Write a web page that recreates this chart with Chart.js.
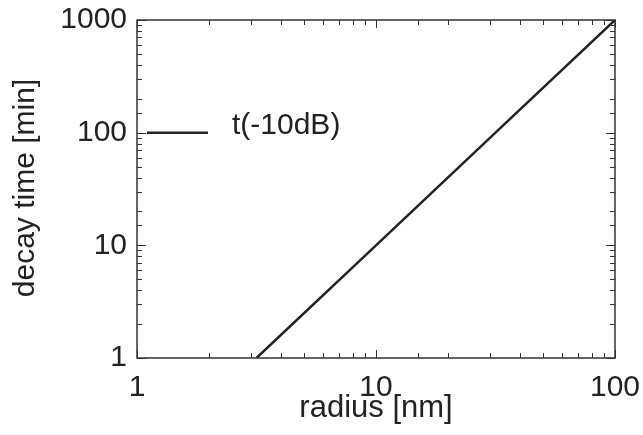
<!DOCTYPE html>
<html>
<head>
<meta charset="utf-8">
<script src="https://cdn.jsdelivr.net/npm/chart.js@4/dist/chart.umd.min.js"></script>
<style>
  body { margin: 0; background: #fff; }
  canvas { display: block; }
</style>
</head>
<body>
<canvas id="myChart" width="643" height="435"></canvas>
<script>
// decay time vs radius
const radius = [3.162, 10, 31.62, 100];      // nm
const decayTime = [1, 10, 100, 1000];        // min
const xTickLabels = [1, 10, 100];
const yTickLabels = [1, 10, 100, 1000];
const legendLabel = 't(-10dB)';

const FONT = '"Liberation Sans", Arial, Helvetica, sans-serif';
const INK = '#222';

function isDecade(v) {
  const l = Math.log10(v);
  return Math.abs(l - Math.round(l)) < 1e-9;
}

// frame + inward ticks on all four sides, legend, y title
const framePlugin = {
  id: 'frame',
  afterDraw: function(chart) {
    const ctx = chart.ctx;
    const a = chart.chartArea;
    const xs = chart.scales.x;
    const ys = chart.scales.y;
    ctx.save();
    ctx.strokeStyle = '#333';
    ctx.lineWidth = 1.5;
    ctx.strokeRect(a.left, a.top, a.right - a.left, a.bottom - a.top);

    ctx.lineWidth = 1;
    xs.ticks.forEach(function(t) {
      const px = Math.round(xs.getPixelForValue(t.value)) + 0.5;
      const len = isDecade(t.value) ? 8 : 5;
      ctx.beginPath();
      ctx.moveTo(px, a.bottom); ctx.lineTo(px, a.bottom - len);
      ctx.moveTo(px, a.top); ctx.lineTo(px, a.top + len);
      ctx.stroke();
    });
    ys.ticks.forEach(function(t) {
      const py = Math.round(ys.getPixelForValue(t.value)) + 0.5;
      const len = isDecade(t.value) ? 9 : 5;
      ctx.beginPath();
      ctx.moveTo(a.left, py); ctx.lineTo(a.left + len, py);
      ctx.moveTo(a.right, py); ctx.lineTo(a.right - len, py);
      ctx.stroke();
    });

    // legend
    const ly = ys.getPixelForValue(100);
    ctx.strokeStyle = INK;
    ctx.lineWidth = 2.5;
    ctx.beginPath();
    ctx.moveTo(a.left + 10, ly);
    ctx.lineTo(a.left + 71, ly);
    ctx.stroke();
    ctx.fillStyle = INK;
    ctx.font = '30px ' + FONT;
    ctx.textAlign = 'left';
    ctx.textBaseline = 'alphabetic';
    ctx.fillText(legendLabel, a.left + 95, ly + 1);

    // y axis title
    ctx.translate(26, (a.top + a.bottom) / 2 - 1);
    ctx.rotate(-Math.PI / 2);
    ctx.textAlign = 'center';
    ctx.textBaseline = 'middle';
    ctx.fillText('decay time [min]', 0, 0);
    ctx.restore();
  }
};

const points = radius.map(function(r, i) { return { x: r, y: decayTime[i] }; });

const config = {
  type: 'scatter',
  data: {
    datasets: [{
      label: legendLabel,
      data: points,
      showLine: true,
      borderColor: INK,
      borderWidth: 2.5,
      pointRadius: 0,
      fill: false
    }]
  },
  options: {
    responsive: false,
    animation: false,
    layout: { padding: { top: 20, right: 28, left: 0, bottom: 0 } },
    plugins: {
      legend: { display: false },
      tooltip: { enabled: false }
    },
    scales: {
      x: {
        type: 'logarithmic',
        min: 1,
        max: 100,
        grid: { display: false, drawTicks: false },
        border: { display: false },
        ticks: {
          autoSkip: false,
          maxRotation: 0,
          padding: 12,
          color: INK,
          font: { family: FONT, size: 30 },
          callback: function(v) { return xTickLabels.includes(v) ? String(v) : ''; }
        },
        title: {
          display: true,
          text: 'radius [nm]',
          color: INK,
          font: { family: FONT, size: 31 },
          padding: { top: 0, bottom: 8 }
        },
        afterFit: function(s) {
          s.height = 77;
          s.paddingLeft = 0;
          s.paddingRight = 0;
        }
      },
      y: {
        type: 'logarithmic',
        min: 1,
        max: 1000,
        grid: { display: false, drawTicks: false },
        border: { display: false },
        ticks: {
          autoSkip: false,
          padding: 10,
          color: INK,
          font: { family: FONT, size: 30 },
          callback: function(v) { return yTickLabels.includes(v) ? String(v) : ''; }
        },
        afterFit: function(s) {
          s.width = 137;
          s.paddingTop = 0;
          s.paddingBottom = 0;
        }
      }
    }
  },
  plugins: [framePlugin]
};

var myChart = new Chart(document.getElementById('myChart'), config);
</script>
</body>
</html>
